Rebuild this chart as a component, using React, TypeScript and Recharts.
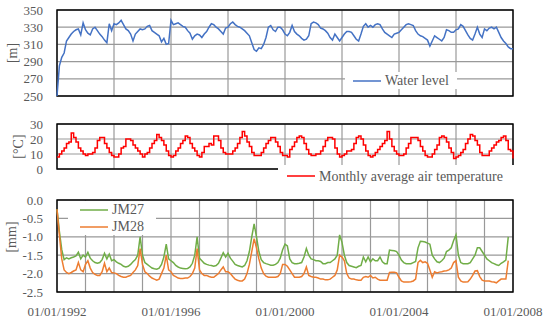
import React from 'react';
import { LineChart, Line, XAxis, YAxis, CartesianGrid, ReferenceArea, Legend } from 'recharts';

const START_YEAR = 1992;
const YEAR_TICKS = [1992, 1993, 1994, 1995, 1996, 1997, 1998, 1999, 2000, 2001, 2002, 2003, 2004, 2005, 2006, 2007, 2008];
const LABEL_YEARS = [1992, 1996, 2000, 2004, 2008];
const WL_TICKS = [250, 270, 290, 310, 330, 350];
const TEMP_TICKS = [0, 10, 20, 30];
const MM_TICKS = [-2.5, -2.0, -1.5, -1.0, -0.5, 0.0];

// Monthly values, Jan 1992 .. Jan 2008
const WATER_LEVEL = [
  250, 285, 295, 300, 314, 318, 322, 325, 327, 328, 321, 335,
  327, 323, 321, 328, 330, 326, 322, 319, 315, 312, 334, 326,
  334, 333, 335, 338, 333, 328, 326, 322, 314, 322, 325, 328,
  327, 328, 331, 332, 326, 324, 322, 320, 313, 317, 310, 311,
  338, 333, 334, 335, 333, 331, 330, 326, 323, 316, 320, 322,
  321, 318, 322, 325, 330, 334, 333, 330, 328, 325, 322, 329,
  330, 334, 336, 333, 331, 330, 328, 326, 323, 320, 312, 304,
  302, 306, 305, 310, 318, 330, 332, 327, 325, 330, 330, 327,
  322, 320, 324, 332, 325, 322, 320, 317, 315, 316, 320, 334,
  336, 335, 333, 329, 328, 326, 323, 318, 315, 322, 318, 314,
  318, 322, 325, 325, 324, 320, 316, 314, 322, 331, 334, 330,
  332, 330, 333, 334, 333, 328, 324, 322, 320, 318, 322, 323,
  324, 327, 330, 333, 334, 333, 332, 326, 322, 320, 319, 317,
  315, 308, 314, 320, 318, 316, 314, 318, 327, 326, 324, 324,
  327, 328, 333, 331, 326, 321, 317, 315, 322, 330, 322, 318,
  328, 326, 329, 330, 328, 330, 324, 318, 314, 311, 307, 305,
  305,
];

const AIR_TEMP = [
  8, 10, 12, 14, 17, 18, 24, 21, 18, 14, 12, 10,
  9, 10, 10, 11, 14, 19, 21, 21, 17, 14, 11, 9,
  8, 8, 10, 14, 15, 20, 20, 19, 16, 14, 12, 10,
  8, 10, 11, 14, 17, 19, 23, 21, 19, 16, 12, 9,
  8, 9, 12, 14, 17, 19, 22, 21, 17, 14, 12, 9,
  8, 11, 15, 15, 17, 16, 22, 22, 19, 14, 11, 10,
  10, 10, 12, 14, 17, 21, 25, 22, 18, 15, 11, 9,
  9, 9, 11, 14, 17, 19, 21, 21, 18, 15, 11, 9,
  9, 8, 13, 15, 18, 21, 22, 21, 17, 13, 10, 9,
  9, 10, 10, 12, 15, 19, 21, 21, 20, 14, 10, 8,
  9, 10, 12, 12, 13, 17, 21, 22, 20, 16, 12, 9,
  8, 9, 11, 13, 15, 17, 19, 25, 20, 15, 12, 10,
  9, 9, 10, 14, 17, 21, 21, 21, 19, 15, 12, 9,
  8, 8, 10, 13, 16, 21, 22, 21, 18, 14, 11, 7,
  8, 9, 11, 13, 17, 20, 23, 22, 19, 16, 11, 9,
  9, 9, 12, 14, 16, 18, 19, 21, 22, 19, 13, 12,
  7,
];

// Monthly settlement, Jan 1992 .. Nov 2007
const JM27 = [
  -0.25, -0.85, -1.35, -1.62, -1.57, -1.6, -1.57, -1.55, -1.52, -1.42, -1.6, -1.5,
  -1.55, -1.42, -1.58, -1.65, -1.7, -1.72, -1.7, -1.62, -1.45, -1.6, -1.47, -1.65,
  -1.62, -1.68, -1.72, -1.75, -1.8, -1.82, -1.8, -1.75, -1.68, -1.62, -1.5, -1.0,
  -1.5, -1.7, -1.75, -1.8, -1.85, -1.87, -1.88, -1.85, -1.75, -1.55, -1.2, -1.6,
  -1.65, -1.7, -1.78, -1.82, -1.85, -1.86, -1.87, -1.86, -1.82, -1.72, -1.5, -1.0,
  -1.58, -1.65, -1.72, -1.75, -1.77, -1.78, -1.8, -1.78, -1.72, -1.58, -1.43, -1.55,
  -1.45, -1.58, -1.66, -1.75, -1.78, -1.8, -1.82, -1.78, -1.65, -1.4, -1.0, -0.65,
  -1.0, -1.4, -1.62, -1.7, -1.73, -1.75, -1.77, -1.77, -1.75, -1.7, -1.58, -1.35,
  -1.2, -1.25, -1.6, -1.7, -1.73, -1.73, -1.72, -1.7, -1.55, -1.32, -1.5, -1.6,
  -1.62, -1.65, -1.65, -1.67, -1.73, -1.73, -1.7, -1.7, -1.65, -1.6, -1.5, -0.95,
  -1.15, -1.5, -1.7, -1.78, -1.8, -1.82, -1.84, -1.8, -1.78, -1.55, -1.68, -1.55,
  -1.68, -1.6, -1.65, -1.65, -1.55, -1.68, -1.73, -1.73, -1.36, -1.37, -1.38, -1.4,
  -1.5, -1.63, -1.7, -1.73, -1.73, -1.73, -1.7, -1.67, -1.3, -1.12, -1.13, -1.14,
  -1.17, -1.2, -1.5, -1.6, -1.68, -1.7, -1.65, -1.58, -1.4, -1.36, -1.3, -1.1,
  -0.95, -1.5, -1.7, -1.73, -1.73, -1.73, -1.7, -1.6, -1.5, -1.3, -1.3, -1.4,
  -1.5, -1.6, -1.65, -1.7, -1.73, -1.76, -1.78, -1.72, -1.68, -1.63, -1.0,
];

const JM28 = [
  -0.25, -0.95, -1.6, -1.9, -1.97, -2.0, -1.97, -1.93, -1.9, -1.7, -1.9, -1.95,
  -1.75, -1.65, -1.85, -1.97, -2.02, -2.05, -2.05, -1.95, -1.72, -1.95, -1.85, -1.97,
  -1.98, -2.0, -2.05, -2.08, -2.1, -2.1, -2.07, -2.05, -1.97, -1.9, -1.78, -1.32,
  -1.75, -1.95, -2.0, -2.07, -2.12, -2.15, -2.18, -2.15, -2.0, -1.85, -1.5, -1.9,
  -1.95, -2.05, -2.08, -2.12, -2.13, -2.13, -2.12, -2.12, -2.08, -2.0, -1.85, -1.32,
  -1.9, -2.0, -2.05, -2.05, -2.08, -2.1, -2.1, -2.05, -2.0, -1.9, -1.82, -1.95,
  -1.95, -2.0, -2.08, -2.15, -2.18, -2.2, -2.2, -2.15, -2.0, -1.75, -1.4, -1.05,
  -1.3, -1.6, -1.85, -2.0, -2.07, -2.1, -2.1, -2.1, -2.1, -2.08, -2.0, -1.75,
  -1.75, -1.8, -1.9, -2.0, -2.1, -2.1, -2.1, -2.08, -2.0, -1.82, -2.05, -2.08,
  -2.1, -2.1, -2.12, -2.15, -2.15, -2.17, -2.17, -2.15, -2.1, -2.05, -1.9, -1.5,
  -1.55, -1.65, -2.0, -2.12, -2.15, -2.15, -2.17, -2.18, -2.18, -2.1, -2.08, -2.1,
  -2.05, -2.12, -2.1, -2.15, -2.18, -2.18, -2.18, -2.18, -1.97, -1.96, -1.96, -1.98,
  -2.1, -2.2, -2.23, -2.23, -2.23, -2.22, -2.2, -2.15, -1.7, -1.64, -1.7, -1.68,
  -1.72, -1.9, -2.1, -1.95, -1.98, -1.96, -1.95, -1.93, -1.92, -1.9, -1.85, -1.7,
  -1.65, -2.1, -2.2, -2.23, -2.23, -2.22, -2.15, -2.05, -1.93, -1.92, -2.08, -2.18,
  -2.2, -2.2, -2.2, -2.22, -2.23, -2.25, -2.2, -2.15, -2.15, -2.15, -1.65,
];

const data = WATER_LEVEL.map((wl, i) => ({
  t: START_YEAR + i / 12,
  wl,
  temp: AIR_TEMP[i],
  jm27: i < JM27.length ? JM27[i] : null,
  jm28: i < JM28.length ? JM28[i] : null,
}));

const FONT = "'Liberation Serif', 'DejaVu Serif', 'Noto Serif', serif";
const TEXT = '#595959';
const GRID = '#999999';
const W = 550;
const X_DOMAIN: [number, number] = [1992, 2008];
const MARGIN_RIGHT = 37;
const Y_AXIS_W = 57;

const tickStyle = { fontSize: 13, fontFamily: FONT, fill: TEXT, style: { fontFamily: FONT } };

const AxisTitle = (props: any) => {
  const { viewBox, title, cx, shift = 0 } = props;
  const cy = viewBox.y + viewBox.height / 2 + shift;
  return (
    <text
      x={cx}
      y={cy}
      transform={`rotate(-90, ${cx}, ${cy})`}
      textAnchor="middle"
      dominantBaseline="central"
      fill={TEXT}
      fontSize={14}
      style={{ fontFamily: FONT }}
    >
      {title}
    </text>
  );
};

const LegendBox = (props: any) => {
  const { payload, padLeft = 8, vertical = false } = props;
  return (
    <div
      style={{
        display: 'flex',
        flexDirection: vertical ? 'column' : 'row',
        alignItems: vertical ? 'flex-start' : 'center',
        justifyContent: vertical ? 'center' : 'flex-start',
        background: '#ffffff',
        paddingLeft: padLeft,
        width: '100%',
        height: '100%',
        boxSizing: 'border-box',
      }}
    >
      {(payload || []).map((p: any) => (
        <div key={p.value} style={{ display: 'flex', alignItems: 'center', height: 17 }}>
          <svg width={28} height={4} style={{ display: 'block' }}>
            <line x1={0} y1={2} x2={28} y2={2} stroke={p.color} strokeWidth={1.5} />
          </svg>
          <span style={{ marginLeft: 4, color: TEXT, fontSize: 14, fontFamily: FONT, lineHeight: '17px', whiteSpace: 'nowrap' }}>
            {p.value}
          </span>
        </div>
      ))}
    </div>
  );
};

const fmtYear = (v: number) => (LABEL_YEARS.includes(Math.round(v)) ? `01/01/${Math.round(v)}` : '');

export default function App() {
  return (
    <div style={{ position: 'absolute', left: 0, top: 0, width: W, height: 321, background: '#fff', fontFamily: FONT }}>
      {/* Water level */}
      <div style={{ position: 'absolute', left: 0, top: 0 }}>
        <LineChart width={W} height={106} data={data} margin={{ top: 10, right: MARGIN_RIGHT, bottom: 10, left: 0 }}>
          <CartesianGrid stroke={GRID} strokeWidth={1.2} fill="none" />
          <XAxis dataKey="t" type="number" domain={X_DOMAIN} ticks={YEAR_TICKS} hide />
          <YAxis
            domain={[250, 350]}
            ticks={WL_TICKS}
            width={Y_AXIS_W}
            tick={tickStyle}
            tickLine={false}
            axisLine={false}
            tickMargin={8}
            interval={0}
            label={<AxisTitle title="[m]" cx={12} />}
          />
          <ReferenceArea x1={1992} x2={2008} y1={250} y2={350} fill="none" stroke="#000" strokeWidth={1.4} ifOverflow="visible" />
          <Line dataKey="wl" name="Water level" stroke="#4472C4" strokeWidth={1.5} dot={false} isAnimationActive={false} />
          <Legend
            layout="horizontal"
            verticalAlign="middle"
            align="center"
            wrapperStyle={{ left: 345, top: 72, width: 112, height: 17 }}
            content={<LegendBox />}
          />
        </LineChart>
      </div>

      {/* Air temperature */}
      <div style={{ position: 'absolute', left: 0, top: 110 }}>
        <LineChart width={W} height={67} data={data} margin={{ top: 14, right: MARGIN_RIGHT, bottom: 8, left: 0 }}>
          <CartesianGrid stroke={GRID} strokeWidth={1.2} fill="none" />
          <XAxis dataKey="t" type="number" domain={X_DOMAIN} ticks={YEAR_TICKS} hide />
          <YAxis
            domain={[0, 30]}
            ticks={TEMP_TICKS}
            width={Y_AXIS_W}
            tick={tickStyle}
            tickLine={false}
            axisLine={false}
            tickMargin={8}
            interval={0}
            label={<AxisTitle title="[°C]" cx={18} />}
          />
          <ReferenceArea x1={1992} x2={2008} y1={0} y2={30} fill="none" stroke="#000" strokeWidth={1.4} ifOverflow="visible" />
          <Line dataKey="temp" name="Monthly average air temperature" type="stepAfter" stroke="#FF0000" strokeWidth={1.5} dot={false} isAnimationActive={false} />
          <Legend
            layout="horizontal"
            verticalAlign="middle"
            align="center"
            wrapperStyle={{ left: 278, top: 55, width: 245, height: 22 }}
            content={<LegendBox padLeft={9} />}
          />
        </LineChart>
      </div>

      {/* Settlement */}
      <div style={{ position: 'absolute', left: 0, top: 188 }}>
        <LineChart width={W} height={133} data={data} margin={{ top: 12, right: MARGIN_RIGHT, bottom: 0, left: 0 }}>
          <CartesianGrid stroke={GRID} strokeWidth={1.2} fill="none" />
          <XAxis
            dataKey="t"
            type="number"
            domain={X_DOMAIN}
            ticks={YEAR_TICKS}
            interval={0}
            height={29}
            tick={tickStyle}
            tickLine={false}
            axisLine={false}
            tickMargin={9}
            tickFormatter={fmtYear}
          />
          <YAxis
            domain={[-2.5, 0]}
            ticks={MM_TICKS}
            width={Y_AXIS_W}
            tick={tickStyle}
            tickLine={false}
            axisLine={false}
            tickMargin={8}
            interval={0}
            tickFormatter={(v: number) => v.toFixed(1)}
            label={<AxisTitle title="[mm]" cx={11} shift={-9} />}
          />
          <ReferenceArea x1={1992} x2={2008} y1={-2.5} y2={0} fill="none" stroke="#000" strokeWidth={1.4} ifOverflow="visible" />
          <Line dataKey="jm27" name="JM27" stroke="#70AD47" strokeWidth={1.5} dot={false} isAnimationActive={false} />
          <Line dataKey="jm28" name="JM28" stroke="#ED7D31" strokeWidth={1.5} dot={false} isAnimationActive={false} />
          <Legend
            layout="horizontal"
            verticalAlign="middle"
            align="center"
            wrapperStyle={{ left: 68, top: 13, width: 88, height: 34 }}
            content={<LegendBox padLeft={12} vertical />}
          />
        </LineChart>
      </div>
    </div>
  );
}
